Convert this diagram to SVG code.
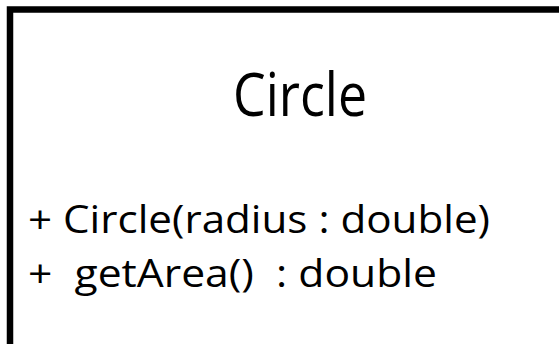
<svg xmlns="http://www.w3.org/2000/svg" width="559" height="344" viewBox="0 0 559 344">
  <style>
    .frame { fill: none; stroke: #000; stroke-width: 6.5; stroke-linejoin: miter; }
    .label { font-family: "Open Sans", "Noto Sans", sans-serif; fill: #000; white-space: pre; }
    .title { font-size: 60px; }
    .member { font-size: 39px; }
  </style>
  <rect width="559" height="344" fill="#fff"/>
  <g id="class-circle">
    <!-- class box: only the top and left edges fall inside the view -->
    <path class="frame" d="M10 344 V9.5 H559"/>
    <text class="label title" x="300" y="116" text-anchor="middle" textLength="134" lengthAdjust="spacingAndGlyphs">Circle</text>
    <text class="label member" x="28" y="233" textLength="462" lengthAdjust="spacingAndGlyphs">+ Circle(radius : double)</text>
    <text class="label member" x="28" y="287" textLength="409" lengthAdjust="spacingAndGlyphs">+  getArea()  : double</text>
  </g>
  <g id="connectors"/>
</svg>
